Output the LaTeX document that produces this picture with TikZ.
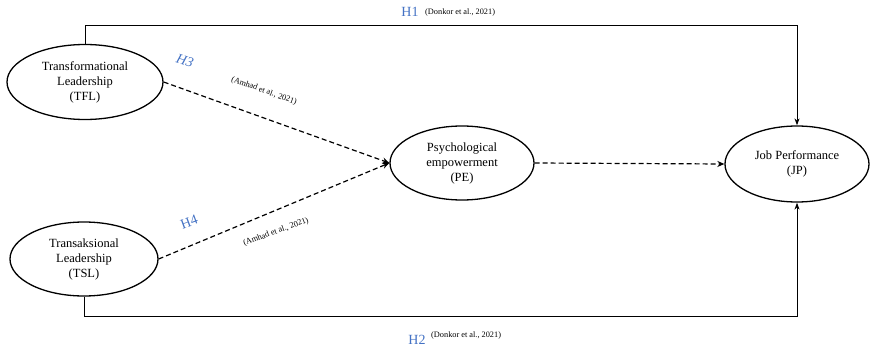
\documentclass[tikz,border=0pt]{standalone}
\usepackage{fontspec}
\setmainfont{Liberation Serif}
\usetikzlibrary{arrows.meta,shapes.geometric}
\definecolor{hblue}{HTML}{4472C4}
\begin{document}
\begin{tikzpicture}[x=1pt,y=-1pt,
  var/.style={draw, line width=1.3pt, ellipse, minimum width=#1, align=center, font=\fontsize{12.5}{15}\selectfont, inner sep=0pt},
  dasharrow/.style={line width=1.2pt, dash pattern=on 5pt off 3pt, -{Stealth[length=7pt,width=6pt]}},
  solidarrow/.style={line width=1pt, -{Stealth[length=7pt,width=5pt]}},
  hyp/.style={text=hblue, font=\fontsize{14}{16}\selectfont, inner sep=0pt},
  cite/.style={font=\fontsize{8.3}{9}\selectfont, inner sep=0pt}]
\useasboundingbox (0,0) rectangle (870,350);
\node[var=156pt, minimum height=75pt] (tfl) at (85,82) {Transformational\\Leadership\\(TFL)};
\node[var=148pt, minimum height=74pt] (tsl) at (84,259) {Transaksional\\Leadership\\(TSL)};
\node[var=144pt, minimum height=74pt] (pe) at (462,163) {Psychological\\empowerment\\(PE)};
\node[var=144pt, minimum height=76pt] (jp) at (797,164) {Job Performance\\(JP)};
\coordinate (t1) at (tfl.north |- 0,26);
\coordinate (t2) at (jp.north |- 0,26);
\coordinate (b1) at (tsl.south |- 0,316);
\coordinate (b2) at (jp.south |- 0,316);
\draw[solidarrow] (tfl.north) -- (t1) -- (t2) -- (jp.north);
\draw[solidarrow] (tsl.south) -- (b1) -- (b2) -- (jp.south);
\draw[dasharrow] (tfl.east) -- (pe.west);
\draw[dasharrow] (tsl.east) -- (pe.west);
\draw[dasharrow] (pe.east) -- (jp.west);
\node[hyp] (h1) at (410,12) {H1};
\node[cite, anchor=west] (c1) at (425,13) {(Donkor et al., 2021)};
\node[hyp] (h2) at (417,340) {H2};
\node[cite, anchor=west] (c2) at (431,336) {(Donkor et al., 2021)};
\node[hyp, rotate=-18] (h3) at (185,61) {\itshape H3};
\node[cite, rotate=-20] (c3) at (264,91) {(Amhad et al., 2021)};
\node[hyp, rotate=20] (h4) at (189,222) {H4};
\node[cite, rotate=20] (c4) at (276,232) {(Amhad et al., 2021)};
\end{tikzpicture}
\end{document}
